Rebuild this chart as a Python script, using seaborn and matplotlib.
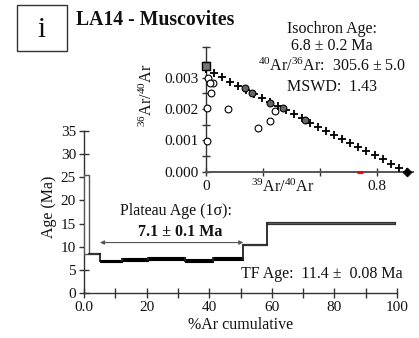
import numpy as np
import matplotlib
matplotlib.use("Agg")
import matplotlib.pyplot as plt
from matplotlib.patches import Rectangle
from matplotlib.ticker import MultipleLocator, FixedLocator, FixedFormatter
import seaborn as sns

# ---------------- Age spectrum (step heating) ----------------
step_edges = [0.0, 1.5, 5.1, 12.0, 20.5, 32.3, 41.3, 50.9, 58.4, 99.4]   # cumulative %39Ar
step_ages = [17.0, 8.6, 6.9, 7.2, 7.5, 7.1, 7.4, 10.5, 15.1]             # apparent age (Ma)
step_errs = [8.5, 0.15, 0.3, 0.3, 0.3, 0.3, 0.3, 0.15, 0.15]             # 1 sigma (Ma)
in_plateau = [False, False, True, True, True, True, True, False, False]

plateau_text = ["Plateau Age (1\u03c3):", "7.1 \u00b1 0.1 Ma"]
tf_text = "TF Age:  11.4 \u00b1  0.08 Ma"

# ---------------- Inverse isochron ----------------
iso_y_intercept = 1.0 / 305.6      # 36Ar/40Ar at 39Ar/40Ar = 0
iso_x_intercept = 0.94             # 39Ar/40Ar at 36Ar/40Ar = 0
atm_ratio = 1.0 / 295.5            # atmospheric 36Ar/40Ar

inc_x = [0.183, 0.214, 0.300, 0.362, 0.464]
inc_y = [2.69e-3, 2.50e-3, 2.18e-3, 2.02e-3, 1.65e-3]
exc_x = [0.008, 0.031, 0.019, 0.022, 0.006, 0.104, 0.245, 0.300, 0.323, 0.003]
exc_y = [2.98e-3, 2.84e-3, 2.82e-3, 2.50e-3, 2.05e-3, 2.00e-3, 1.41e-3, 1.63e-3, 1.94e-3, 0.97e-3]
red_x, red_y = [0.72], [0.0]

iso_text = ["Isochron Age:", "6.8 \u00b1 0.2 Ma",
            r"$^{40}$Ar/$^{36}$Ar:  305.6 $\pm$ 5.0", "MSWD:  1.43"]

# ---------------- Styling ----------------
sns.set_theme(style="ticks")
plt.rcParams["font.family"] = ["Liberation Serif", "DejaVu Serif"]
plt.rcParams["mathtext.fontset"] = "custom"
plt.rcParams["mathtext.rm"] = "Liberation Serif"
plt.rcParams["mathtext.it"] = "Liberation Serif:italic"
plt.rcParams["mathtext.bf"] = "Liberation Serif:bold"
plt.rcParams["mathtext.default"] = "regular"

W, H = 419, 338
fig = plt.figure(figsize=(W / 100, H / 100), dpi=100)
fig.patch.set_facecolor("white")


def fx(x):
    return x / W


def fy(y):
    return 1 - y / H


AX_COL = "#333333"
FS_TICK = 11
FS_TEXT = 11.5

# ---------------- Main axes: age spectrum ----------------
ax = fig.add_axes([fx(84), fy(293), (397 - 84) / W, (293 - 131) / H])
ax.set_facecolor("none")
ax.set_xlim(0, 100)
ax.set_ylim(0, 35)
for s in ["top", "right"]:
    ax.spines[s].set_visible(False)
for s in ["left", "bottom"]:
    ax.spines[s].set_color(AX_COL)
    ax.spines[s].set_linewidth(1.0)

ax.xaxis.set_major_locator(FixedLocator([0, 20, 40, 60, 80, 100]))
ax.xaxis.set_major_formatter(FixedFormatter(["0.0", "20", "40", "60", "80", "100"]))
ax.xaxis.set_minor_locator(FixedLocator([10, 30, 50, 70, 90]))
ax.yaxis.set_major_locator(MultipleLocator(5))
ax.tick_params(which="both", direction="inout", length=7.5, width=1.0,
               color=AX_COL, labelsize=FS_TICK, labelcolor="#111111", pad=2)

# step boxes (age +- 1 sigma)
for i in range(len(step_ages)):
    x0, x1 = step_edges[i], step_edges[i + 1]
    lo, hi = step_ages[i] - step_errs[i], step_ages[i] + step_errs[i]
    if in_plateau[i]:
        fc, ec, lw = "black", "black", 0.8
    elif step_errs[i] > 2:
        fc, ec, lw = "white", "#555555", 1.0
    else:
        fc, ec, lw = "#666666", "#333333", 0.9
    ax.fill_between([x0, x1], [lo, lo], [hi, hi], facecolor=fc, edgecolor=ec,
                    linewidth=lw, zorder=3)

# vertical risers joining neighbouring steps
for i in range(len(step_ages) - 1):
    xe = step_edges[i + 1]
    a_lo = min(step_ages[i] - step_errs[i], step_ages[i + 1] - step_errs[i + 1])
    a_hi = max(step_ages[i] + step_errs[i], step_ages[i + 1] + step_errs[i + 1])
    if step_errs[i] > 2:  # wide first box: join at its bottom edge
        a_lo = min(step_ages[i] - step_errs[i], step_ages[i + 1])
        a_hi = max(step_ages[i] - step_errs[i], step_ages[i + 1] + step_errs[i + 1])
    ax.vlines(xe, a_lo, a_hi, colors="#222222", linewidth=1.3, zorder=3)

# plateau extent arrow
p0 = step_edges[in_plateau.index(True)]
p1 = step_edges[len(in_plateau) - in_plateau[::-1].index(True)]
ax.annotate("", xy=(p0, 10.9), xytext=(p1, 10.9),
            arrowprops=dict(arrowstyle="<|-|>", color="#555555", lw=0.8,
                            mutation_scale=6, shrinkA=0, shrinkB=0))

fig.text(fx(176), fy(215), plateau_text[0], fontsize=FS_TEXT, ha="center",
         va="baseline", color="#111111")
fig.text(fx(180), fy(236.5), plateau_text[1], fontsize=FS_TEXT, ha="center",
         va="baseline", fontweight="bold", color="#111111")
fig.text(fx(403), fy(278.5), tf_text, fontsize=FS_TEXT, ha="right",
         va="baseline", color="#111111")

fig.text(fx(241), fy(325), "%Ar cumulative", fontsize=FS_TEXT, ha="center",
         va="center", color="#111111")
fig.text(fx(48.5), fy(207), "Age (Ma)", fontsize=FS_TEXT, ha="center",
         va="center", rotation=90, color="#111111")

# ---------------- Inset: inverse isochron ----------------
ins = fig.add_axes([fx(206), fy(171.7), (413 - 206) / W, (171.7 - 46.5) / H])
ins.set_facecolor("none")
ins.set_xlim(0, 0.97)
ins.set_ylim(0, 0.004)
for s in ["top", "right"]:
    ins.spines[s].set_visible(False)
ins.spines["left"].set_color(AX_COL)
ins.spines["left"].set_linewidth(1.0)
ins.spines["bottom"].set_color("#555555")
ins.spines["bottom"].set_linewidth(1.4)

ins.xaxis.set_major_locator(FixedLocator([0, 0.8]))
ins.xaxis.set_major_formatter(FixedFormatter(["0", "0.8"]))
ins.xaxis.set_minor_locator(FixedLocator([0.8 / 3, 1.6 / 3]))
ins.yaxis.set_major_locator(FixedLocator([0, 0.001, 0.002, 0.003, 0.004]))
ins.yaxis.set_major_formatter(FixedFormatter(["0.000", "0.001", "0.002", "0.003", ""]))
ins.yaxis.set_minor_locator(MultipleLocator(0.0005))
ins.tick_params(which="both", direction="inout", length=5.3, width=1.0,
                color=AX_COL, labelsize=FS_TICK, labelcolor="#111111", pad=3)

# isochron fit drawn as a row of crosses
lx = np.linspace(0, iso_x_intercept, 26)
ly = iso_y_intercept * (1 - lx / iso_x_intercept)
sns.scatterplot(x=lx, y=ly, marker="+", s=30, color="black", linewidth=1.3,
                ax=ins, zorder=4, clip_on=False)

sns.scatterplot(x=exc_x, y=exc_y, marker="o", s=24, facecolor="white",
                edgecolor="black", linewidth=0.8, ax=ins, zorder=3, clip_on=False)
sns.scatterplot(x=inc_x, y=inc_y, marker="o", s=24, color="#666666",
                edgecolor="black", linewidth=0.8, ax=ins, zorder=5, clip_on=False)
sns.scatterplot(x=[0], y=[atm_ratio], marker="s", s=26, color="#777777",
                edgecolor="black", linewidth=1.0, ax=ins, zorder=6, clip_on=False)
sns.scatterplot(x=[iso_x_intercept], y=[0], marker="D", s=22, color="black",
                edgecolor="black", ax=ins, zorder=6, clip_on=False)
sns.scatterplot(x=red_x, y=red_y, marker="_", s=25, color="red", linewidth=2.2,
                ax=ins, zorder=6, clip_on=False)

ins.text((283 - 206) / 207, -(191.5 - 171.7) / 125.2, r"$^{39}$Ar/$^{40}$Ar",
         transform=ins.transAxes, fontsize=FS_TEXT, ha="center", va="baseline",
         color="#111111")
fig.text(fx(147), fy(95), r"$^{36}$Ar/$^{40}$Ar", fontsize=FS_TEXT, ha="center",
         va="center", rotation=90, color="#111111")

for txt, yb in zip(iso_text, [33, 50, 71, 91]):
    fig.text(fx(332), fy(yb), txt, fontsize=FS_TEXT, ha="center", va="baseline",
             color="#111111")

# ---------------- Panel tag and title ----------------
fig.patches.append(Rectangle((fx(16.7), fy(50.7)), 50 / W, 45.7 / H,
                             transform=fig.transFigure, fill=False,
                             edgecolor="#333333", linewidth=1.0))
fig.text(fx(41.7), fy(37), "i", fontsize=21, ha="center", va="baseline",
         color="#111111")
fig.text(fx(76), fy(25), "LA14 - Muscovites", fontsize=14.2, fontweight="bold",
         ha="left", va="baseline", color="#111111")

fig.savefig("out.png", dpi=100)
